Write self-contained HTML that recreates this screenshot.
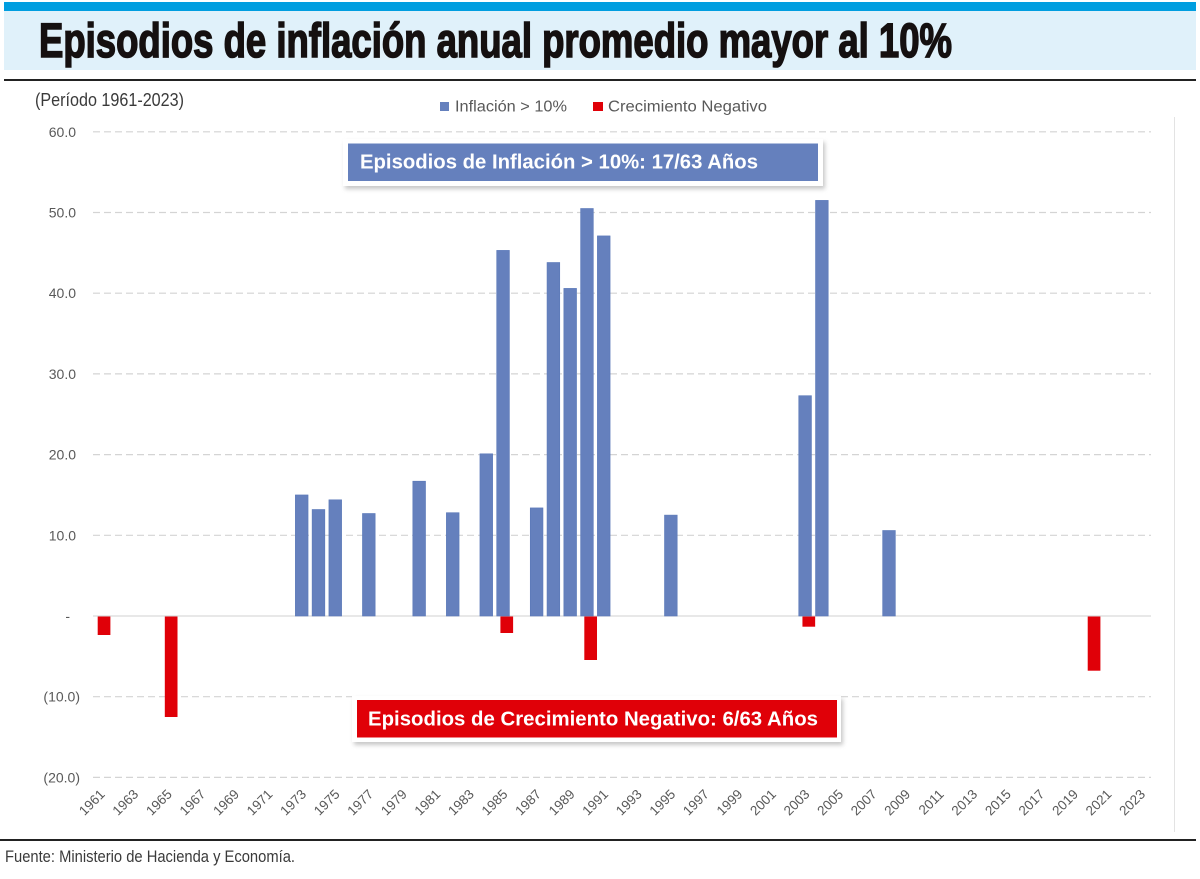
<!DOCTYPE html>
<html>
<head>
<meta charset="utf-8">
<style>
  html, body { margin: 0; padding: 0; background: #ffffff; }
  body { width: 1200px; height: 879px; overflow: hidden; }
  svg { display: block; }
  .narrow { font-family: "Liberation Sans Narrow", "Liberation Sans", sans-serif; }
  .sans { font-family: "Liberation Sans", sans-serif; }
</style>
</head>
<body>
<svg width="1200" height="879" viewBox="0 0 1200 879" xmlns="http://www.w3.org/2000/svg">
  <defs>
    <filter id="sh" x="-5%" y="-30%" width="110%" height="160%">
      <feGaussianBlur stdDeviation="2"/>
    </filter>
  </defs>
  <rect x="0" y="0" width="1200" height="879" fill="#ffffff"/>

  <!-- Header -->
  <rect x="4" y="2" width="1192" height="9" fill="#009ee0"/>
  <rect x="4" y="11" width="1192" height="59" fill="#e0f1fa"/>
  <text class="narrow" x="39" y="57" font-size="48" font-weight="bold" fill="#151010" stroke="#151010" stroke-width="1.6" textLength="913" lengthAdjust="spacingAndGlyphs">Episodios de inflación anual promedio mayor al 10%</text>
  <rect x="4" y="79" width="1192" height="2" fill="#222222"/>

  <!-- Subtitle -->
  <text class="narrow" x="35" y="106" font-size="18" fill="#3a3a3a" textLength="149" lengthAdjust="spacingAndGlyphs">(Período 1961-2023)</text>

  <!-- Legend -->
  <rect x="440" y="102" width="9" height="9" fill="#6580bd"/>
  <text class="sans" x="455" y="111.5" font-size="15.5" fill="#595959" textLength="112" lengthAdjust="spacingAndGlyphs">Inflación &gt; 10%</text>
  <rect x="593" y="102" width="10" height="9" fill="#e00008"/>
  <text class="sans" x="608" y="111.5" font-size="15.5" fill="#595959" textLength="159" lengthAdjust="spacingAndGlyphs">Crecimiento Negativo</text>

  <!-- chart area right border -->
  <line x1="1174.5" y1="117" x2="1174.5" y2="832" stroke="#e3e3e3" stroke-width="1"/>

  <!-- Gridlines -->
  <g stroke="#d4d4d4" stroke-width="1.2" stroke-dasharray="7,4">
    <line x1="93" y1="131.8" x2="1151" y2="131.8"/>
    <line x1="93" y1="212.5" x2="1151" y2="212.5"/>
    <line x1="93" y1="293.2" x2="1151" y2="293.2"/>
    <line x1="93" y1="373.9" x2="1151" y2="373.9"/>
    <line x1="93" y1="454.6" x2="1151" y2="454.6"/>
    <line x1="93" y1="535.3" x2="1151" y2="535.3"/>
    <line x1="93" y1="696.7" x2="1151" y2="696.7"/>
    <line x1="93" y1="777.4" x2="1151" y2="777.4"/>
  </g>
  <line x1="93" y1="616" x2="1151" y2="616" stroke="#d9d9d9" stroke-width="1.2"/>

  <!-- Y labels -->
  <g class="sans" font-size="14" fill="#595959" text-anchor="end">
    <text x="76" y="136.8">60.0</text>
    <text x="76" y="217.5">50.0</text>
    <text x="76" y="298.2">40.0</text>
    <text x="76" y="378.9">30.0</text>
    <text x="76" y="459.6">20.0</text>
    <text x="76" y="540.3">10.0</text>
    <text x="70" y="621">-</text>
    <text x="80" y="701.7">(10.0)</text>
    <text x="80" y="782.4">(20.0)</text>
  </g>

  <!-- Blue bars -->
  <g fill="#6580bd" stroke="#5a78b8" stroke-width="0.6">
    <rect x="295.35" y="494.95" width="12.7" height="121.05"/>
    <rect x="312.13" y="509.5" width="12.7" height="106.5"/>
    <rect x="328.91" y="499.8" width="12.7" height="116.2"/>
    <rect x="362.47" y="513.5" width="12.7" height="102.5"/>
    <rect x="412.81" y="481.2" width="12.7" height="134.8"/>
    <rect x="446.37" y="512.7" width="12.7" height="103.3"/>
    <rect x="479.93" y="453.8" width="12.7" height="162.2"/>
    <rect x="496.71" y="250.4" width="12.7" height="365.6"/>
    <rect x="530.27" y="507.9" width="12.7" height="108.1"/>
    <rect x="547.05" y="262.5" width="12.7" height="353.5"/>
    <rect x="563.83" y="288.4" width="12.7" height="327.6"/>
    <rect x="580.61" y="208.5" width="12.7" height="407.5"/>
    <rect x="597.39" y="235.9" width="12.7" height="380.1"/>
    <rect x="664.51" y="515.1" width="12.7" height="100.9"/>
    <rect x="798.75" y="395.7" width="12.7" height="220.3"/>
    <rect x="815.53" y="200.4" width="12.7" height="415.6"/>
    <rect x="882.65" y="530.5" width="12.7" height="85.5"/>
  </g>

  <!-- Red bars -->
  <g fill="#e00008">
    <rect x="97.69" y="616.5" width="12.7" height="18.5"/>
    <rect x="164.81" y="616.5" width="12.7" height="100.5"/>
    <rect x="500.41" y="616.5" width="12.7" height="16.5"/>
    <rect x="584.31" y="616.5" width="12.7" height="43.5"/>
    <rect x="802.45" y="616.5" width="12.7" height="10.2"/>
    <rect x="1087.71" y="616.5" width="12.7" height="54.2"/>
  </g>

  <!-- Blue annotation box -->
  <rect x="345" y="142" width="480" height="47" fill="#9a9a9a" opacity="0.55" filter="url(#sh)"/>
  <rect x="343" y="139" width="480" height="47" fill="#ffffff"/>
  <rect x="348" y="143.5" width="470" height="37.5" fill="#6580bd"/>
  <text class="sans" x="360" y="168.5" font-size="20" font-weight="bold" fill="#ffffff" textLength="398" lengthAdjust="spacingAndGlyphs">Episodios de Inflación &gt; 10%: 17/63 Años</text>

  <!-- Red annotation box -->
  <rect x="354" y="699" width="489" height="46" fill="#9a9a9a" opacity="0.55" filter="url(#sh)"/>
  <rect x="352" y="696" width="489" height="46" fill="#ffffff"/>
  <rect x="357" y="700" width="480" height="37.5" fill="#e00008"/>
  <text class="sans" x="368" y="725.5" font-size="20" font-weight="bold" fill="#ffffff" textLength="450" lengthAdjust="spacingAndGlyphs">Episodios de Crecimiento Negativo: 6/63 Años</text>

  <!-- X labels -->
  <g class="sans" font-size="13.5" fill="#595959" text-anchor="end">
    <text x="105.7" y="795" transform="rotate(-45 105.7 795)">1961</text>
    <text x="139.26" y="795" transform="rotate(-45 139.26 795)">1963</text>
    <text x="172.82" y="795" transform="rotate(-45 172.82 795)">1965</text>
    <text x="206.38" y="795" transform="rotate(-45 206.38 795)">1967</text>
    <text x="239.94" y="795" transform="rotate(-45 239.94 795)">1969</text>
    <text x="273.5" y="795" transform="rotate(-45 273.5 795)">1971</text>
    <text x="307.06" y="795" transform="rotate(-45 307.06 795)">1973</text>
    <text x="340.62" y="795" transform="rotate(-45 340.62 795)">1975</text>
    <text x="374.18" y="795" transform="rotate(-45 374.18 795)">1977</text>
    <text x="407.74" y="795" transform="rotate(-45 407.74 795)">1979</text>
    <text x="441.3" y="795" transform="rotate(-45 441.3 795)">1981</text>
    <text x="474.86" y="795" transform="rotate(-45 474.86 795)">1983</text>
    <text x="508.42" y="795" transform="rotate(-45 508.42 795)">1985</text>
    <text x="541.98" y="795" transform="rotate(-45 541.98 795)">1987</text>
    <text x="575.54" y="795" transform="rotate(-45 575.54 795)">1989</text>
    <text x="609.1" y="795" transform="rotate(-45 609.1 795)">1991</text>
    <text x="642.66" y="795" transform="rotate(-45 642.66 795)">1993</text>
    <text x="676.22" y="795" transform="rotate(-45 676.22 795)">1995</text>
    <text x="709.78" y="795" transform="rotate(-45 709.78 795)">1997</text>
    <text x="743.34" y="795" transform="rotate(-45 743.34 795)">1999</text>
    <text x="776.9" y="795" transform="rotate(-45 776.9 795)">2001</text>
    <text x="810.46" y="795" transform="rotate(-45 810.46 795)">2003</text>
    <text x="844.02" y="795" transform="rotate(-45 844.02 795)">2005</text>
    <text x="877.58" y="795" transform="rotate(-45 877.58 795)">2007</text>
    <text x="911.14" y="795" transform="rotate(-45 911.14 795)">2009</text>
    <text x="944.7" y="795" transform="rotate(-45 944.7 795)">2011</text>
    <text x="978.26" y="795" transform="rotate(-45 978.26 795)">2013</text>
    <text x="1011.82" y="795" transform="rotate(-45 1011.82 795)">2015</text>
    <text x="1045.38" y="795" transform="rotate(-45 1045.38 795)">2017</text>
    <text x="1078.94" y="795" transform="rotate(-45 1078.94 795)">2019</text>
    <text x="1112.5" y="795" transform="rotate(-45 1112.5 795)">2021</text>
    <text x="1146.06" y="795" transform="rotate(-45 1146.06 795)">2023</text>
  </g>

  <!-- Footer -->
  <rect x="0" y="839" width="1196" height="2" fill="#222222"/>
  <text class="narrow" x="5" y="862" font-size="17" fill="#3a3a3a" textLength="290" lengthAdjust="spacingAndGlyphs">Fuente: Ministerio de Hacienda y Economía.</text>
</svg>
</body>
</html>
